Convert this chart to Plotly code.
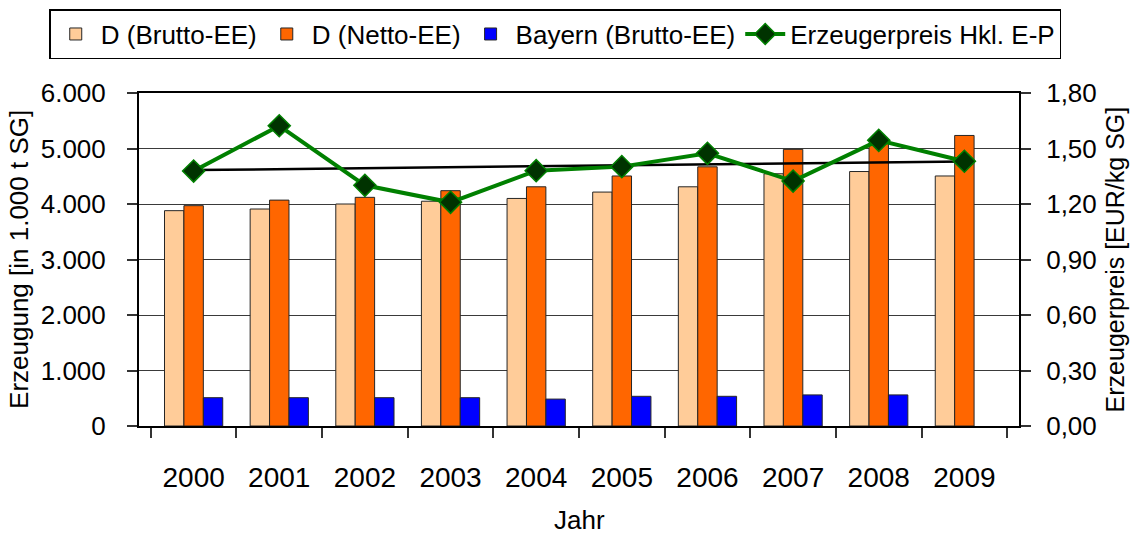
import numpy as np
import plotly.graph_objects as go

years = ["2000", "2001", "2002", "2003", "2004", "2005", "2006", "2007", "2008", "2009"]
d_brutto = [3880, 3910, 4000, 4050, 4100, 4215, 4310, 4545, 4585, 4505]
d_netto = [3970, 4070, 4120, 4240, 4310, 4505, 4670, 4985, 5105, 5235]
bayern_brutto = [510, 510, 510, 510, 485, 535, 535, 560, 560, None]
preis = [1.378, 1.623, 1.301, 1.209, 1.380, 1.402, 1.474, 1.324, 1.544, 1.431]

y_ticks = [0, 1000, 2000, 3000, 4000, 5000, 6000]
y2_ticks = [0.0, 0.3, 0.6, 0.9, 1.2, 1.5, 1.8]

# linear trend of producer price
idx = np.arange(len(years))
slope, intercept = np.polyfit(idx, preis, 1)
trend = (slope * idx + intercept).tolist()

FONT = "Liberation Sans"
OUTLINE = dict(color="#262626", width=1)

fig = go.Figure()
fig.add_trace(go.Bar(x=years, y=d_brutto, name="D (Brutto-EE)",
                     marker=dict(color="#FFCC99", line=OUTLINE)))
fig.add_trace(go.Bar(x=years, y=d_netto, name="D (Netto-EE)",
                     marker=dict(color="#FF6600", line=OUTLINE)))
fig.add_trace(go.Bar(x=years, y=bayern_brutto, name="Bayern (Brutto-EE)",
                     marker=dict(color="#0000FF", line=OUTLINE)))
fig.add_trace(go.Scatter(x=years, y=trend, yaxis="y2", mode="lines",
                         line=dict(color="black", width=2.5), showlegend=False,
                         hoverinfo="skip"))
fig.add_trace(go.Scatter(x=years, y=preis, yaxis="y2", mode="lines+markers",
                         name="Erzeugerpreis Hkl. E-P",
                         line=dict(color="#008000", width=4),
                         marker=dict(symbol="diamond", size=17, color="#003300",
                                     line=dict(color="#008000", width=1.5))))

fig.update_layout(
    width=1130, height=538,
    margin=dict(l=139, r=111, t=93, b=112, autoexpand=False),
    paper_bgcolor="white", plot_bgcolor="white",
    separators=",.",
    barmode="group", bargap=0.32, bargroupgap=0,
    font=dict(family=FONT, size=25, color="black"),
    showlegend=True,
    legend=dict(orientation="h", xref="paper", yref="paper",
                x=-0.102, xanchor="left", y=1.252, yanchor="top",
                bordercolor="black", borderwidth=1.5,
                font=dict(family=FONT, size=26, color="black"),
                traceorder="normal", itemwidth=40),
    xaxis=dict(type="category", showgrid=False, tickson="boundaries",
               ticks="outside", ticklen=10, tickcolor="#333", tickwidth=1.5,
               showline=True, linecolor="black", linewidth=2, mirror=True,
               tickfont=dict(size=28), ticklabelstandoff=25, automargin=False),
    yaxis=dict(range=[0, 6000], tickvals=y_ticks, tickformat=",.0f",
               showgrid=True, gridcolor="#3a3a3a", gridwidth=1,
               ticks="outside", ticklen=10, tickcolor="#333", tickwidth=1.5,
               showline=True, linecolor="black", linewidth=2, mirror=True,
               tickfont=dict(size=26), ticklabelstandoff=16, zeroline=False,
               automargin=False),
    yaxis2=dict(range=[0, 1.8], tickvals=y2_ticks, tickformat=".2f",
                overlaying="y", side="right", showgrid=False,
                ticks="outside", ticklen=10, tickcolor="#333", tickwidth=1.5,
                showline=True, linecolor="black", linewidth=2,
                tickfont=dict(size=26), ticklabelstandoff=10, zeroline=False,
                automargin=False),
)

fig.add_annotation(text="Erzeugung [in 1.000 t SG]", xref="paper", yref="paper",
                   x=-0.137, y=0.5, textangle=-90, showarrow=False,
                   xanchor="center", yanchor="middle", font=dict(size=26))
fig.add_annotation(text="Erzeugerpreis [EUR/kg SG]", xref="paper", yref="paper",
                   x=1.109, y=0.5, textangle=-90, showarrow=False,
                   xanchor="center", yanchor="middle", font=dict(size=25))
fig.add_annotation(text="Jahr", xref="paper", yref="paper",
                   x=0.5, y=-0.3333, showarrow=False,
                   xanchor="center", yanchor="bottom", font=dict(size=26))

fig.write_html("out.html",
               config={"displayModeBar": False},
               post_script="document.body.style.margin='0';"
                           "document.body.style.overflow='hidden';")
